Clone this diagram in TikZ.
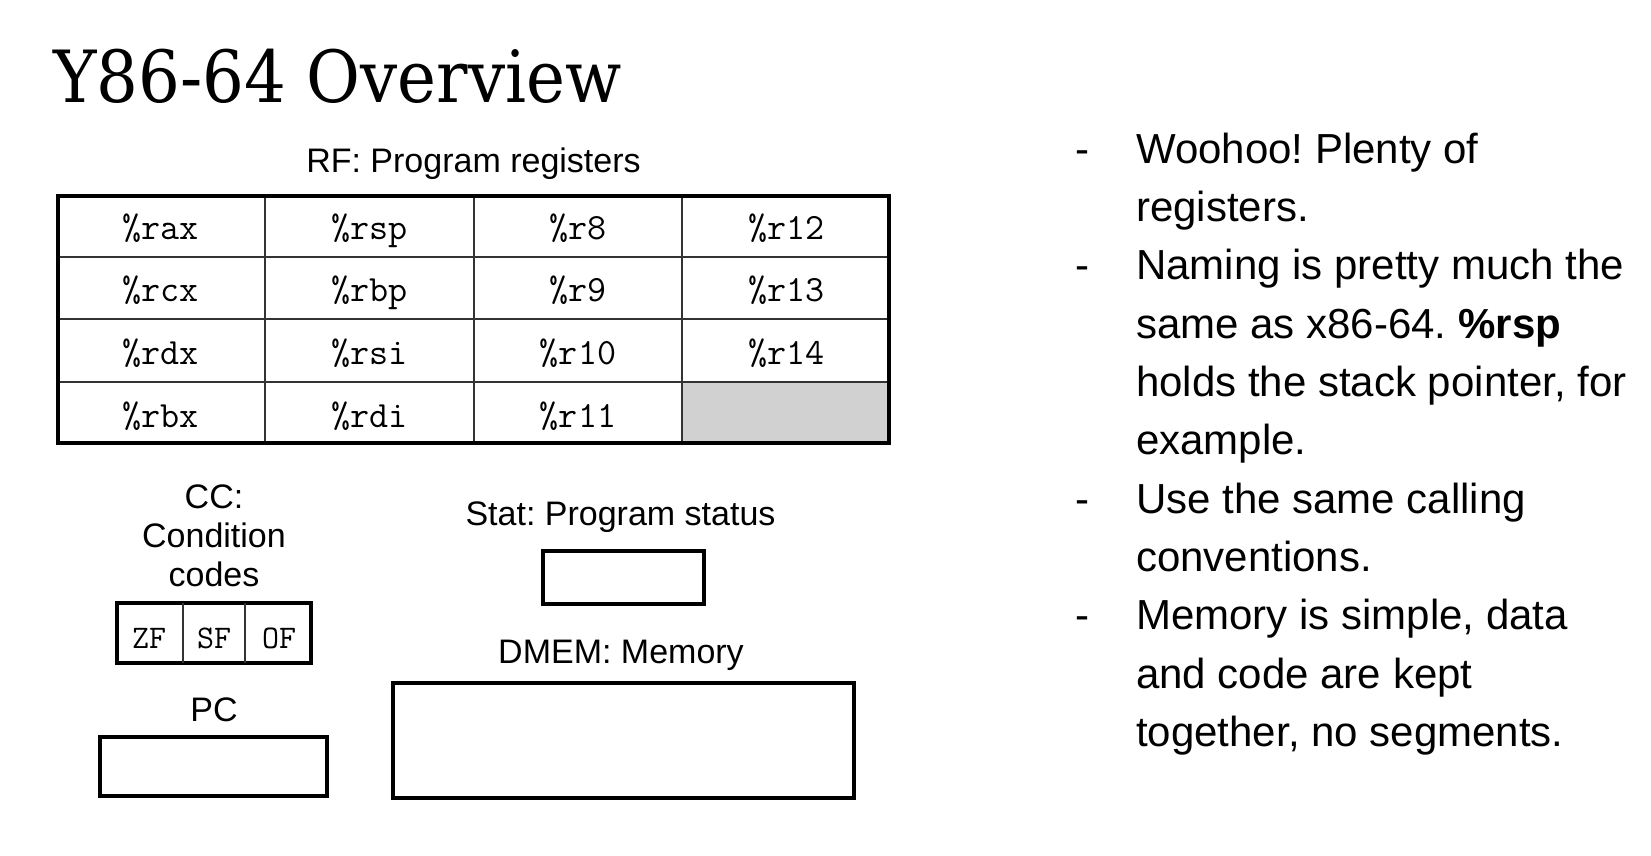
\documentclass[tikz,border=0pt]{standalone}
\usepackage{fontspec}
\setmainfont{Liberation Sans}
\newfontfamily\slabfont{DejaVu Serif}
\usepackage{tikz}

\tikzset{
	lbl/.style={font=\fontsize{34}{39}\selectfont, anchor=base, inner sep=0pt},
	reg/.style={font=\ttfamily\fontsize{37}{42}\selectfont, anchor=base, inner sep=0pt},
	flag/.style={font=\ttfamily\fontsize{33}{38}\selectfont, anchor=base, inner sep=0pt},
	box/.style={draw, line width=3.6pt, inner sep=0pt},
	grid/.style={line width=1.3pt, black!80},
	bullet/.style={font=\fontsize{42}{58.35}\selectfont, anchor=base west, inner sep=0pt},
}
\newcommand{\lines}[1]{\vtop{\halign{##\hfil\cr#1\crcr}}}

\begin{document}
\frenchspacing
\begin{tikzpicture}[x=1pt, y=-1pt]
	\useasboundingbox (0,0) rectangle (1651,855);

	\node[anchor=base west, inner sep=0pt] (title) at (53,102) {\scalebox{0.913}[1]{\slabfont\fontsize{72}{80}\selectfont Y86-64 Overview}};

	% register file
	\node[lbl] (rflbl) at (473.5,172) {RF: Program registers};
	\fill[black!18] (682,382) rectangle (889,443);
	\foreach \x in {265,474,682}
		\draw[grid] (\x,196) -- (\x,443);
	\foreach \y in {257,319,382}
		\draw[grid] (58,\y) -- (889,\y);
	\draw[box] (58,196) rectangle (889,443);

	\foreach \nm/\cx/\by in {rax/160.5/239, rcx/160.5/301.5, rdx/160.5/364, rbx/160.5/427,
			rsp/369.5/239, rbp/369.5/301.5, rsi/369.5/364, rdi/369.5/427,
			r8/578/239, r9/578/301.5, r10/578/364, r11/578/427,
			r12/786.5/239, r13/786.5/301.5, r14/786.5/364}
		\node[reg] (\nm) at (\cx,\by) {\%\nm};

	% condition codes
	\node[lbl] (cclbl) at (214,508) {CC:};
	\node[lbl] (cclbl2) at (214,547) {Condition};
	\node[lbl] (cclbl3) at (214,586) {codes};
	\node[box, minimum width=194, minimum height=60] (cc) at (214,633) {};
	\draw[grid] (183,603) -- (183,663);
	\draw[grid] (245,603) -- (245,663);
	\node[flag] (zf) at (149,648) {ZF};
	\node[flag] (sf) at (214,648) {SF};
	\node[flag] (of) at (279,648) {OF};

	% pc, status, memory
	\node[lbl] (pclbl) at (214,721) {PC};
	\node[box, minimum width=227, minimum height=59] (pc) at (213.5,766.5) {};
	\node[lbl] (statlbl) at (620.5,525) {Stat: Program status};
	\node[box, minimum width=161, minimum height=53] (stat) at (623.5,577.5) {};
	\node[lbl] (dmemlbl) at (621,663) {DMEM: Memory};
	\node[box, minimum width=461, minimum height=115] (dmem) at (623.5,740.5) {};

	% notes
	\node[bullet] (d1) at (1075,163) {-};
	\node[bullet] (t1) at (1136,163) {\lines{Woohoo! Plenty of\cr registers.}};
	\node[bullet] (d2) at (1075,279.7) {-};
	\node[bullet] (t2) at (1136,279.7) {\lines{Naming is pretty much the\cr same as x86-64. \textbf{\%rsp}\cr holds the stack pointer, for\cr example.}};
	\node[bullet] (d3) at (1075,513.1) {-};
	\node[bullet] (t3) at (1136,513.1) {\lines{Use the same calling\cr conventions.}};
	\node[bullet] (d4) at (1075,629.8) {-};
	\node[bullet] (t4) at (1136,629.8) {\lines{Memory is simple, data\cr and code are kept\cr together, no segments.}};
\end{tikzpicture}
\end{document}
